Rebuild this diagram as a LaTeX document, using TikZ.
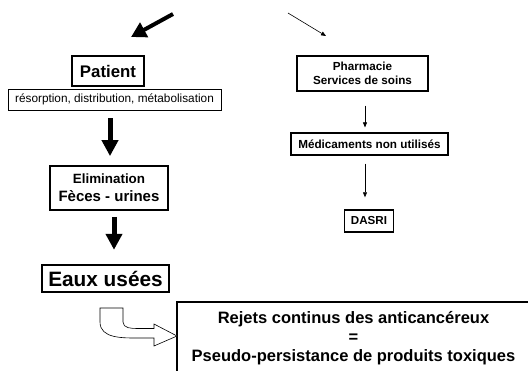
\documentclass[tikz,border=0pt]{standalone}
\usepackage{fontspec}
\setmainfont{Liberation Sans}
\usetikzlibrary{arrows.meta}
\tikzset{
  box/.style={draw, inner sep=0pt, align=center},
  bigarrow/.style={line width=5pt, -{Triangle[length=16pt,width=16pt]}},
  smallarrow/.style={line width=0.6pt, -{Triangle[length=5pt,width=4pt]}}
}
\begin{document}
\begin{tikzpicture}[x=1pt,y=-1pt]
\clip (0,0) rectangle (528,370);
%Nodes
\node[box, line width=2.4pt, minimum width=72, minimum height=30, font=\bfseries\fontsize{16.8}{19}\selectfont] (patient) at (108,71) {Patient};
\node[box, line width=0.8pt, minimum width=213, minimum height=21, font=\fontsize{11.8}{14}\selectfont] (resorp) at (114.5,99.5) {résorption, distribution, métabolisation};

\node[box, line width=1.8pt, minimum width=118, minimum height=44, font=\bfseries\fontsize{15}{18}\selectfont] (elim) at (109,188) {{\fontsize{13.4}{18}\selectfont Elimination}\\Fèces - urines};

\node[box, line width=2.4pt, minimum width=127, minimum height=27, font=\bfseries\fontsize{20.8}{24}\selectfont] (eaux) at (105.5,278.5) {Eaux usées};

\node[box, line width=2pt, minimum width=353, minimum height=72, font=\bfseries\fontsize{16.5}{19}\selectfont] (rejets) at (353.5,338) {Rejets continus des anticancéreux\\=\\Pseudo-persistance de produits toxiques};

\node[box, line width=1.2pt, minimum width=131, minimum height=35, font=\bfseries\fontsize{11.7}{13.5}\selectfont] (pharma) at (362.5,73.5) {Pharmacie\\Services de soins};
\node[box, line width=1.2pt, minimum width=157, minimum height=22, font=\bfseries\fontsize{11.7}{13.5}\selectfont] (mnu) at (369.5,144) {Médicaments non utilisés};
\node[box, line width=1.4pt, minimum width=49, minimum height=22, font=\bfseries\fontsize{11.6}{13.5}\selectfont] (dasri) at (369,221) {DASRI};

\coordinate (tailA) at (173,14);
\coordinate (tipA) at (131,37);
\coordinate (tailB) at (288,13);
\coordinate (tipB) at (326,36);

%Lines
\draw[bigarrow, line width=4pt, -{Triangle[length=15pt,width=16pt]}] (tailA) -- (tipA);
\draw[smallarrow] (tailB) -- (tipB);

\draw[bigarrow, shorten <=8pt, shorten >=9pt] ([xshift=1pt]elim.north |- resorp.south) -- ([xshift=1pt]elim.north);
\draw[bigarrow, shorten <=6pt, shorten >=14pt] ([xshift=5pt]elim.south) -- ([xshift=5pt]elim.south |- eaux.north);

\draw[smallarrow, shorten <=14pt, shorten >=5pt] ([xshift=2.5pt]pharma.south) -- ([xshift=2.5pt]pharma.south |- mnu.north);
\draw[smallarrow, shorten <=8pt, shorten >=12pt] ([xshift=-4pt]dasri.north |- mnu.south) -- ([xshift=-4pt]dasri.north);

%U arrow
\draw[fill=white, line width=0.6pt] (100,308) -- (123,308) -- (123,322)
  to[out=-90,in=180] (138,328.5) -- (154,328.5) -- (154,324) -- (177,336)
  -- (154,346) -- (154,338) -- (140,338) to[out=180,in=-90] (100,322) -- cycle;
\end{tikzpicture}
\end{document}
